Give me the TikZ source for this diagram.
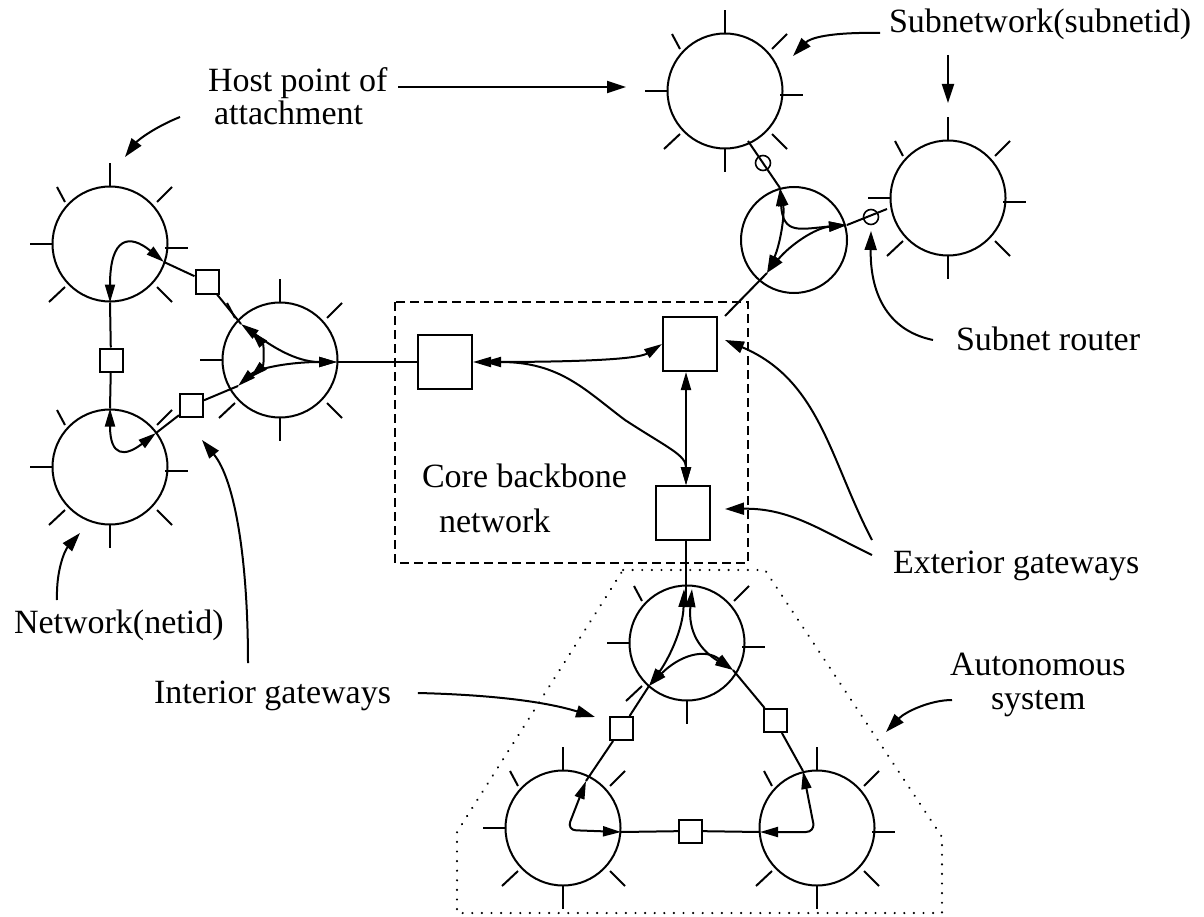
\documentclass[tikz,border=0pt]{standalone}
\usepackage{fontspec}
\setmainfont{Liberation Serif}
\usetikzlibrary{arrows.meta,calc}
\newcommand\Ticks[2]{\foreach \d in {#2}{\pic at (#1.center) {tick\d};}}
\begin{document}
\begin{tikzpicture}[x=1pt,y=-1pt,
  line width=2pt,
  every node/.style={inner sep=0pt},
  net/.style={circle,draw,minimum size=115pt},
  rtr/.style={circle,draw,minimum size=106pt},
  gw/.style={rectangle,draw,minimum size=23pt},
  core/.style={rectangle,draw,minimum size=54pt},
  sr/.style={circle,draw,line width=1.6pt,minimum size=15pt},
  lbl/.style={font=\fontsize{34}{40}\selectfont, anchor=base west},
  tip/.style={-{Triangle[length=19pt,width=12pt]}},
  both/.style={{Triangle[length=18pt,width=10pt]}-{Triangle[length=18pt,width=10pt]}},
  dashbox/.style={line width=1.6pt,dash pattern=on 9pt off 5pt},
  dotbox/.style={line width=2.3pt,dash pattern=on 0.1pt off 9.5pt,line cap=round},
  tickN/.pic={\draw (0,-58)--(0,-81);},
  tickNE/.pic={\draw (47,-42)--(62,-57);},
  tickE/.pic={\draw (55,4)--(78,4);},
  tickSE/.pic={\draw (47,43)--(62,58);},
  tickS/.pic={\draw (0,58)--(0,81);},
  tickSW/.pic={\draw (-61,58)--(-45,43);},
  tickW/.pic={\draw (-80,0)--(-57,0);},
  tickNW/.pic={\draw (-53,-57)--(-45,-42);}
]
\useasboundingbox (0,0) rectangle (1204,917);

% networks
\node[net] (A) at (110,244) {};
\node[net] (B) at (110,467) {};
\node[net] (C) at (280,360) {};
\node[net] (D) at (725,91) {};
\node[rtr] (E) at (794,240) {};
\node[net] (F) at (948,198) {};
\node[net] (G) at (687,643) {};
\node[net] (H) at (563,828) {};
\node[net] (I) at (817,828) {};
\Ticks{A}{N,NE,E,SE,SW,W,NW}
\Ticks{B}{NE,E,SE,S,SW,W,NW}
\Ticks{C}{N,NE,SE,S,SW,W,NW}
\Ticks{D}{N,NE,E,SE,S,SW,W,NW}
\Ticks{F}{N,NE,E,SE,S,SW,W,NW}
\Ticks{G}{NE,E,S,SW,W,NW}
\Ticks{H}{N,NE,SE,S,SW,W,NW}
\Ticks{I}{N,NE,E,SE,S,SW,NW}

% gateways
\node[gw] (g1) at (207,282) {};
\node[gw] (g2) at (111,360) {};
\node[gw] (g3) at (191.5,405.5) {};
\node[core] (k1) at (445,362) {};
\node[core] (k2) at (690,344) {};
\node[core] (k3) at (683,513) {};
\node[gw] (g4) at (621.5,728.5) {};
\node[gw] (g5) at (775,720.5) {};
\node[gw] (g6) at (690.5,831) {};
\node[sr] (s1) at (763,163) {};
\node[sr] (s2) at (871,217) {};

% attachment points
\coordinate (a2) at (164,262);
\coordinate (b2x) at (156,433);
\coordinate (c1) at (241,324);
\coordinate (c2) at (238,386);
\coordinate (cE) at (337,362);
\coordinate (c1i) at (251,331);
\coordinate (c2i) at (250,378);
\coordinate (dE) at (748,141);
\coordinate (e1) at (767,273);
\coordinate (e2) at (780,188);
\coordinate (e3) at (847,225);
\coordinate (fW) at (887,209);
\coordinate (vx) at (686,0);
\coordinate (gT1) at (684,589);
\coordinate (gT2) at (692,589);
\coordinate (gSW) at (649,686);
\coordinate (gSE) at (733,670);
\coordinate (h1) at (586,781);
\coordinate (h2) at (621,832);
\coordinate (i1) at (760,832);
\coordinate (i2) at (803,771);

% left cluster
\draw (a2) -- (g1);
\draw (g1) -- (c1);
\draw (A.south) -- (g2) -- (B.north);
\draw (b2x) -- (g3);
\draw (g3) -- (c2);
\draw[both] (A.south) .. controls (110,236) and (130,234) .. (a2);
\draw[both] (B.north) .. controls (110,457) and (125,457) .. (b2x);
\draw[both] (c1) .. controls (270,345) and (295,362) .. (cE);
\draw[both] (c2) .. controls (258,368) and (290,362) .. (cE);
\draw[both] (c1i) .. controls (264,345) and (264,365) .. (c2i);
\draw (cE) -- (k1.west);

% core
\draw[both] (k1.east) .. controls (600,362) and (640,358) .. (k2.west);
\draw[both] ($(k1.east)+(10,0)$) .. controls (560,362) and (585,390) .. (625,420)
   .. controls (668,448) and (686,455) .. (vx |- k3.north);
\draw[both] (vx |- k2.south) -- (vx |- k3.north);

% subnets
\draw ($(k2.north east)+(7,0)$) -- (e1);
\draw[both] (e1) .. controls (780,245) and (785,215) .. (e2);
\draw[both] (e1) .. controls (790,245) and (815,228) .. (e3);
\draw[both] (e2) .. controls (783,235) and (800,229) .. (e3);
\draw (dE) -- (e2);
\draw (e3) -- (fW);

% autonomous system
\draw (vx |- k3.south) -- (686,600);
\draw[both] (gT1) .. controls (683,630) and (668,660) .. (gSW);
\draw[both] (gT2) .. controls (688,632) and (700,650) .. (gSE);
\draw[both] (gSW) .. controls (680,655) and (705,648) .. (gSE);
\draw (gSW) -- (g4);
\draw (g4) -- (h1);
\draw[both, rounded corners=9pt] (h1) -- (567,830) -- (h2);
\draw (h2) -- (g6) -- (i1);
\draw[both, rounded corners=9pt] (i1) -- (815,832) -- (i2);
\draw (i2) -- (g5);
\draw (g5) -- (gSE);

% boundaries
\draw[dashbox] (395,302) rectangle (748,563);
\draw[dotbox] (623,570) -- (765,570) -- (942,837) -- (942,913) -- (457,913) -- (457,832) -- cycle;

% labels
\node[lbl] (host1) at (207,92) {Host point of};
\node[lbl] (host2) at (213,125) {attachment};
\node[lbl] (subn) at (888,33) {Subnetwork(subnetid)};
\node[lbl] (srl) at (955,350) {Subnet router};
\node[lbl] (ext) at (892,573) {Exterior gateways};
\node[lbl] (cb1) at (421,487) {Core backbone};
\node[lbl] (cb2) at (438,532) {network};
\node[lbl] (netl) at (13,633) {Network(netid)};
\node[lbl] (intl) at (153,703) {Interior gateways};
\node[lbl] (aut1) at (949,675) {Autonomous};
\node[lbl] (aut2) at (990,709) {system};

\coordinate (t1) at (626,87);
\coordinate (t2) at (125,157);
\coordinate (t3) at (793,56);
\coordinate (t4) at (948,103);
\coordinate (t5) at (871,231);
\coordinate (t6) at (725,340);
\coordinate (t7) at (725,509);
\coordinate (t8) at (80,533);
\coordinate (t9) at (202,440);
\coordinate (t10) at (595,717);
\coordinate (t11) at (886,732);

\draw[tip] ([shift={(10,-5)}]host1.base east) -- (t1);
\draw[tip] ([shift={(-33,-8)}]host2.base west) .. controls (155,127) and (138,140) .. (t2);
\draw[tip] ([shift={(-8,0)}]subn.base west) .. controls (830,32) and (810,38) .. (t3);
\draw[tip] ([shift={(60,22)}]subn.base west) -- (t4);
\draw[tip] ([shift={(-22,-10)}]srl.base west) .. controls (885,330) and (870,290) .. (t5);
\draw[tip] ([shift={(-20,-33)}]ext.base west) .. controls (830,460) and (820,380) .. (t6);
\draw[tip] ([shift={(-20,-18)}]ext.base west) .. controls (820,530) and (790,508) .. (t7);
\draw[tip] ([shift={(44,-33)}]netl.base west) .. controls (56,570) and (65,550) .. (t8);
\draw[tip] ([shift={(95,-40)}]intl.base west) .. controls (248,560) and (235,480) .. (t9);
\draw[tip] ([shift={(26,-10)}]intl.base east) .. controls (500,695) and (550,703) .. (t10);
\draw[tip] ([shift={(-38,-9)}]aut2.base west) .. controls (930,700) and (905,712) .. (t11);
\end{tikzpicture}
\end{document}
